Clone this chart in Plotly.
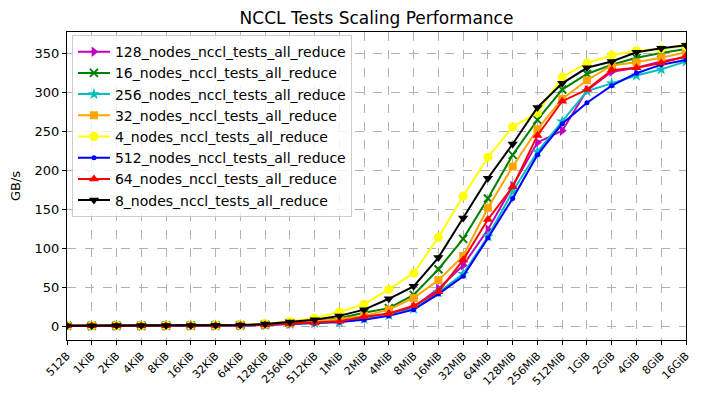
import plotly.graph_objects as go

sizes = ["512B", "1KiB", "2KiB", "4KiB", "8KiB", "16KiB", "32KiB", "64KiB", "128KiB", "256KiB",
         "512KiB", "1MiB", "2MiB", "4MiB", "8MiB", "16MiB", "32MiB", "64MiB", "128MiB", "256MiB",
         "512MiB", "1GiB", "2GiB", "4GiB", "8GiB", "16GiB"]

n128 = [0.3, 0.3, 0.3, 0.4, 0.4, 0.5, 0.7, 1.0, 1.6, 3.0, 4.5, 6, 10, 15, 24, 48, 78, 124, 180, 236, 251, 303, 327, 332, 340, 346]
n16 = [0.3, 0.3, 0.4, 0.4, 0.5, 0.6, 0.8, 1.1, 2.0, 4.0, 6.5, 10, 17, 23, 40, 73, 112, 164, 220, 265, 304, 324, 336, 345, 351, 356]
n256 = [0.3, 0.3, 0.3, 0.3, 0.4, 0.5, 0.6, 0.9, 1.5, 2.8, 4.0, 5, 9, 14, 22, 43, 67, 115, 173, 224, 263, 302, 312, 322, 330, 340]
n32 = [0.3, 0.3, 0.4, 0.4, 0.5, 0.6, 0.8, 1.0, 1.8, 3.5, 6.0, 9, 13, 21, 36, 59, 90, 152, 205, 253, 292, 316, 335, 339, 345, 352]
n4 = [0.5, 0.5, 0.5, 0.6, 0.6, 0.8, 1.0, 1.5, 3.0, 6.0, 10, 18, 28, 47, 68, 114, 167, 217, 256, 274, 320, 338, 348, 354, 356, 360]
n512 = [0.2, 0.2, 0.3, 0.3, 0.4, 0.4, 0.5, 0.8, 1.3, 2.5, 3.5, 5, 8, 13, 21, 41, 64, 113, 164, 220, 260, 287, 309, 325, 336, 342]
n64 = [0.3, 0.3, 0.3, 0.4, 0.4, 0.5, 0.7, 1.0, 1.6, 3.0, 4.5, 6, 12, 16, 26, 44, 85, 137, 179, 245, 289, 304, 329, 332, 338, 347]
n8 = [0.4, 0.4, 0.5, 0.5, 0.6, 0.7, 0.9, 1.3, 2.5, 5.0, 8.0, 13, 21, 35, 51, 88, 139, 190, 234, 281, 312, 332, 340, 352, 357, 361]

series = [
    ("128_nodes_nccl_tests_all_reduce", n128, "#bf00bf", "triangle-right", 9),
    ("16_nodes_nccl_tests_all_reduce", n16, "#008000", "x-thin", 8),
    ("256_nodes_nccl_tests_all_reduce", n256, "#00bfbf", "star", 9),
    ("32_nodes_nccl_tests_all_reduce", n32, "#ffa500", "square", 8),
    ("4_nodes_nccl_tests_all_reduce", n4, "#ffff00", "circle", 9),
    ("512_nodes_nccl_tests_all_reduce", n512, "#0000ff", "circle", 5),
    ("64_nodes_nccl_tests_all_reduce", n64, "#ff0000", "triangle-up", 9),
    ("8_nodes_nccl_tests_all_reduce", n8, "#000000", "triangle-down", 9),
]

xs = list(range(len(sizes)))
fig = go.Figure()
for name, vals, color, sym, msz in series:
    marker = dict(symbol=sym, size=msz, color=color)
    if sym == "x-thin":
        marker["line"] = dict(width=2, color=color)
    else:
        marker["line"] = dict(width=0)
    fig.add_trace(go.Scatter(x=xs, y=vals, mode="lines+markers", name=name,
                             line=dict(color=color, width=2), marker=marker))

font = "DejaVu Sans, sans-serif"
fig.update_layout(
    width=702, height=388,
    margin=dict(l=59, r=24, t=24, b=56, autoexpand=False),
    paper_bgcolor="white", plot_bgcolor="white",
    font=dict(family=font, size=13, color="black"),
    title=dict(text="NCCL Tests Scaling Performance", xref="paper", x=0.5, xanchor="center",
               yref="container", y=0.99, yanchor="top", font=dict(size=17)),
    showlegend=True,
    legend=dict(x=0.008, y=0.99, xanchor="left", yanchor="top",
                bgcolor="rgba(255,255,255,0.8)", bordercolor="#cccccc", borderwidth=1,
                font=dict(size=14), tracegroupgap=0, itemwidth=32),
)
fig.update_xaxes(
    range=[0, 25], tickmode="array", tickvals=xs, ticktext=sizes, tickangle=-45,
    tickfont=dict(size=11), showgrid=True, gridcolor="#b0b0b0", griddash="dash", gridwidth=1,
    showline=True, linecolor="black", linewidth=1, mirror=True, automargin=False,
    ticks="outside", ticklen=4, tickcolor="black", zeroline=False,
)
fig.update_yaxes(
    range=[-18, 378], tickvals=[0, 50, 100, 150, 200, 250, 300, 350], automargin=False,
    title=dict(text="GB/s", font=dict(size=13), standoff=11),
    showgrid=True, gridcolor="#b0b0b0", griddash="dash", gridwidth=1,
    showline=True, linecolor="black", linewidth=1, mirror=True,
    ticks="outside", ticklen=4, tickcolor="black", zeroline=False,
)
fig.write_html("out.html")
